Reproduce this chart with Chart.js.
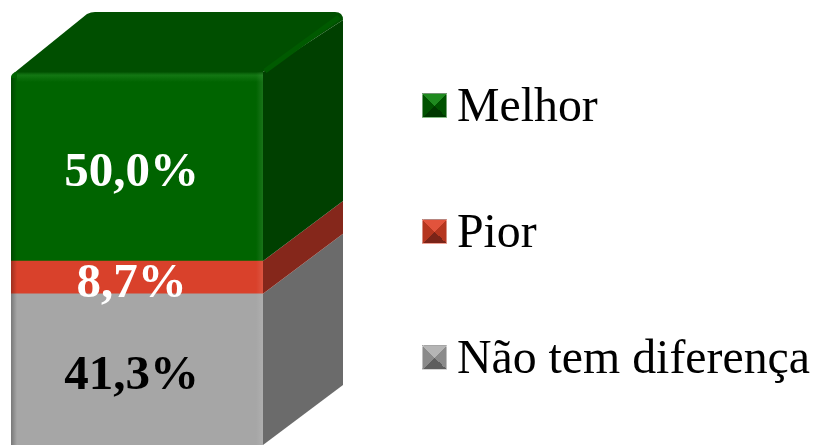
<!DOCTYPE html>
<html>
<head>
<meta charset="utf-8">
<title>Chart</title>
<script src="https://cdn.jsdelivr.net/npm/chart.js@4"></script>
<style>
    html, body { margin: 0; padding: 0; background: #fff; overflow: hidden; }
    #wrap { position: relative; width: 815px; height: 445px; }
    #legend { font-family: "Liberation Serif", serif; font-size: 47.8px; color: #000; }
    .item { position: absolute; left: 422px; height: 50px; line-height: 50px; white-space: nowrap; }
    .swatch { position: absolute; left: 0; top: 13px; width: 25px; height: 25px; box-sizing: border-box; border: 1px solid rgba(255,255,255,0.45); }
    .name { position: absolute; left: 35px; top: 0; }
</style>
</head>
<body>
<div id="wrap">
    <canvas id="chart" width="815" height="445"></canvas>
    <div id="legend"></div>
</div>
<script>
const categories = ["Resposta"];
const seriesNames = ["Não tem diferença", "Pior", "Melhor"];
const seriesValues = [41.3, 8.7, 50.0];
const valueLabels = ["41,3%", "8,7%", "50,0%"];
const labelColors = ["#000000", "#ffffff", "#ffffff"];
const frontColors = ["#a6a6a6", "#d9412b", "#006400"];
const sideColors = ["#6b6b6b", "#85271b", "#004000"];
const topColor = "#004f00";
const swatchLight = ["#b5b5b5", "#e2533c", "#1f8a1f"];
const swatchMid = ["#8a8a8a", "#b5361f", "#005200"];
const swatchDark = ["#5e5e5e", "#7a2418", "#003800"];
const legendTops = [332, 206, 80];

// depth of the fake 3D box
const depthX = 80;
const depthY = 60;
const labelShiftX = -5.5;
const labelShiftY = 6.5;

const box3d = {
    id: "box3d",
    beforeDatasetsDraw(chart) {
        const c = chart.ctx;
        const bottom = chart.chartArea.bottom;
        const last = chart.data.datasets.length - 1;
        const r = 8;
        c.save();
        chart.data.datasets.forEach((ds, i) => {
            const el = chart.getDatasetMeta(i).data[0];
            const right = el.x + el.width / 2;
            const base = Math.min(el.base, bottom);
            c.fillStyle = sideColors[i];
            c.beginPath();
            c.moveTo(right, el.y);
            // the top of the stack stops short of the rounded back corner
            c.lineTo(right + depthX, el.y - depthY + (i === last ? r : 0));
            c.lineTo(right + depthX, base - depthY);
            c.lineTo(right, base);
            c.closePath();
            c.fill();
        });

        // top face, from the last bar in the stack
        const el = chart.getDatasetMeta(last).data[0];
        const left = el.x - el.width / 2;
        const right = el.x + el.width / 2;
        c.fillStyle = topColor;
        c.beginPath();
        c.moveTo(left + 3, el.y + 1);
        c.lineTo(left + depthX - 4, el.y - depthY + 2);
        c.quadraticCurveTo(left + depthX, el.y - depthY, left + depthX + 4, el.y - depthY);
        c.lineTo(right + depthX - r, el.y - depthY);
        c.quadraticCurveTo(right + depthX, el.y - depthY, right + depthX, el.y - depthY + r);
        c.lineTo(right, el.y);
        c.lineTo(left + 3, el.y + 1);
        c.closePath();
        c.fill();

        // ridge along the back right edge of the top
        c.strokeStyle = "#005a00";
        c.lineWidth = 5;
        c.beginPath();
        c.moveTo(right + 2, el.y - 1);
        c.lineTo(right + depthX - 4, el.y - depthY + 5);
        c.stroke();
        c.restore();
    },
    afterDatasetsDraw(chart) {
        const c = chart.ctx;
        const area = chart.chartArea;
        c.save();
        chart.data.datasets.forEach((ds, i) => {
            const el = chart.getDatasetMeta(i).data[0];
            const left = el.x - el.width / 2;
            const right = el.x + el.width / 2;
            const base = Math.min(el.base, area.bottom);
            const h = base - el.y;
            const inset = i === chart.data.datasets.length - 1 ? 6 : 0;

            // soft edges on the left and right of the front
            let g = c.createLinearGradient(left, 0, left + 6, 0);
            g.addColorStop(0, "rgba(0,0,0,0.28)");
            g.addColorStop(1, "rgba(0,0,0,0)");
            c.fillStyle = g;
            c.fillRect(left, el.y + inset, 6, h - inset);
            g = c.createLinearGradient(right - 7, 0, right, 0);
            g.addColorStop(0, "rgba(255,255,255,0)");
            g.addColorStop(1, "rgba(255,255,255,0.1)");
            c.fillStyle = g;
            c.fillRect(right - 7, el.y, 7, h);
        });

        // highlight along the top front edge
        const last = chart.data.datasets.length - 1;
        const el = chart.getDatasetMeta(last).data[0];
        const left = el.x - el.width / 2;
        const g = c.createLinearGradient(0, el.y, 0, el.y + 10);
        g.addColorStop(0, "rgba(0,60,0,0.5)");
        g.addColorStop(0.35, "rgba(60,160,60,0.3)");
        g.addColorStop(1, "rgba(60,160,60,0)");
        c.fillStyle = g;
        c.fillRect(left + 6, el.y, el.width - 6, 10);

        // value labels
        c.font = "bold 49px 'Liberation Serif', serif";
        c.textAlign = "center";
        c.textBaseline = "middle";
        chart.data.datasets.forEach((ds, i) => {
            const bar = chart.getDatasetMeta(i).data[0];
            const base = Math.min(bar.base, area.bottom);
            c.fillStyle = labelColors[i];
            c.fillText(valueLabels[i], bar.x + labelShiftX, (bar.y + base) / 2 + labelShiftY);
        });
        c.restore();
    }
};

const datasets = seriesNames.map((name, i) => ({
    label: name,
    data: [seriesValues[i]],
    backgroundColor: frontColors[i],
    borderWidth: 0,
    borderSkipped: false,
    borderRadius: i === seriesNames.length - 1 ? { topLeft: 7 } : 0,
    barPercentage: 1,
    categoryPercentage: 1
}));

new Chart(document.getElementById("chart").getContext("2d"), {
    type: "bar",
    data: { labels: categories, datasets: datasets },
    plugins: [box3d],
    options: {
        responsive: false,
        animation: false,
        layout: { padding: { left: 11, right: 552, top: 72, bottom: 0 } },
        plugins: {
            legend: { display: false },
            tooltip: { enabled: false }
        },
        scales: {
            x: { display: false, stacked: true },
            y: { display: false, stacked: true, min: 1.3, max: 100 }
        }
    }
});

// legend sits to the right of the box, top to bottom
const legend = document.getElementById("legend");
seriesNames.forEach((name, i) => {
    const item = document.createElement("div");
    item.className = "item";
    item.style.top = legendTops[i] + "px";

    const swatch = document.createElement("span");
    swatch.className = "swatch";
    swatch.style.background = `conic-gradient(from -45deg, ${swatchLight[i]} 0 90deg, ${swatchMid[i]} 90deg 180deg, ${swatchDark[i]} 180deg 270deg, ${swatchMid[i]} 270deg 360deg)`;
    item.appendChild(swatch);

    const text = document.createElement("span");
    text.className = "name";
    text.innerText = name;
    item.appendChild(text);
    legend.appendChild(item);
});
</script>
</body>
</html>
